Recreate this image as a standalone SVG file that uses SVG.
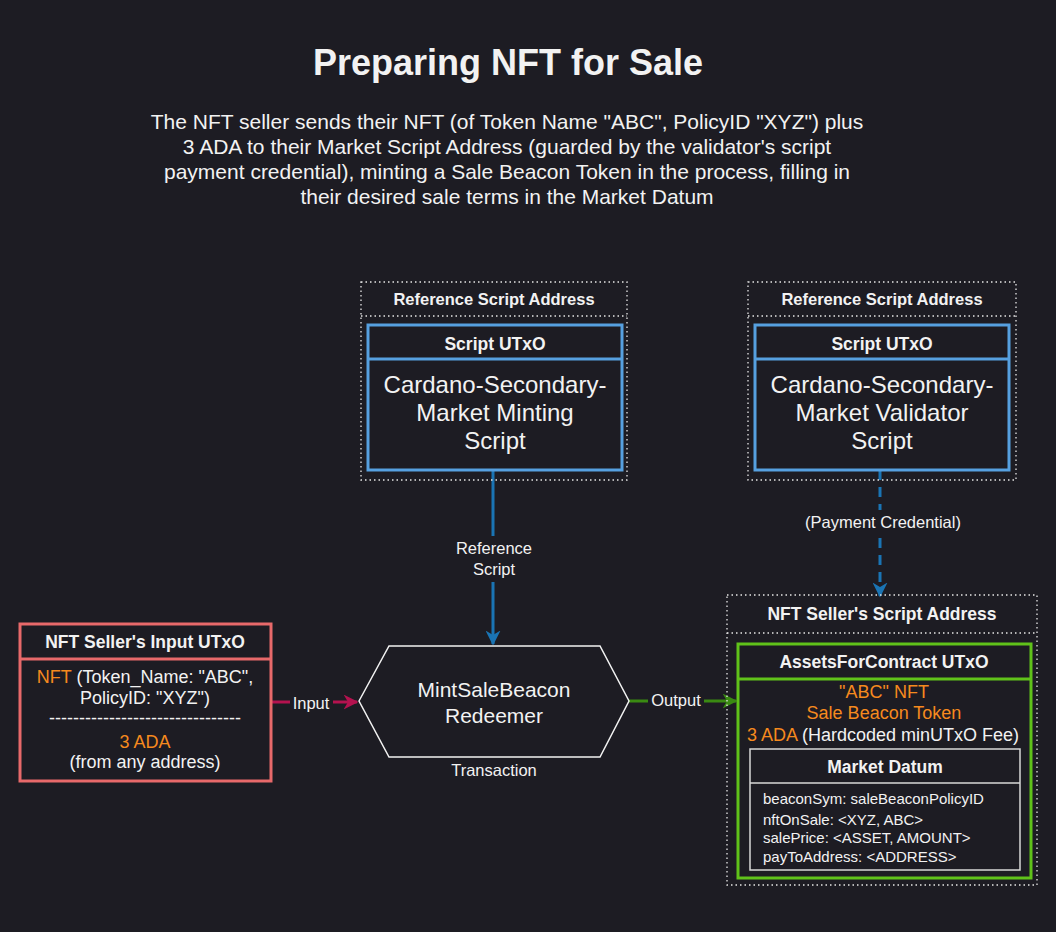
<svg xmlns="http://www.w3.org/2000/svg" width="1056" height="932" viewBox="0 0 1056 932">
<defs>
<style>
text{font-family:"Liberation Sans",Arial,Helvetica,sans-serif;fill:#f2f2f2;text-anchor:middle}
.b{font-weight:bold}
.h{font-size:17.5px;font-weight:bold}
.big{font-size:24px}
.o{fill:#f68a1e}
.dot{fill:none;stroke:#e6e6e6;stroke-width:1.3;stroke-dasharray:1.5 3}
.lbl{font-size:16.5px}
.m{font-size:18px}
</style>
<marker id="ab" viewBox="0 0 10 10" refX="9" refY="5" markerWidth="5" markerHeight="5" orient="auto" markerUnits="strokeWidth"><path d="M0,0 L10,5 L0,10 L3,5 z" fill="#1a74b4"/></marker>
<marker id="ar" viewBox="0 0 10 10" refX="9" refY="5" markerWidth="5" markerHeight="5" orient="auto" markerUnits="strokeWidth"><path d="M0,0 L10,5 L0,10 L3,5 z" fill="#b5124f"/></marker>
<marker id="ag" viewBox="0 0 10 10" refX="9" refY="5" markerWidth="5" markerHeight="5" orient="auto" markerUnits="strokeWidth"><path d="M0,0 L10,5 L0,10 L3,5 z" fill="#3a8a12"/></marker>
</defs>
<rect width="1056" height="932" fill="#1d1c23"/>
<g id="title">
<text x="508" y="75" class="b" style="font-size:36px">Preparing NFT for Sale</text>
<text x="507" y="129" style="font-size:21px">The NFT seller sends their NFT (of Token Name "ABC", PolicyID "XYZ") plus</text>
<text x="507" y="154" style="font-size:21px">3 ADA to their Market Script Address (guarded by the validator's script</text>
<text x="507" y="179" style="font-size:21px">payment credential), minting a Sale Beacon Token in the process, filling in</text>
<text x="507" y="204" style="font-size:21px">their desired sale terms in the Market Datum</text>
</g>
<g id="connectors">
<line x1="493" y1="470" x2="493" y2="536" stroke="#1a74b4" stroke-width="3"/>
<line x1="493" y1="582" x2="493" y2="644" stroke="#1a74b4" stroke-width="3" marker-end="url(#ab)"/>
<text x="494" y="554" class="lbl">Reference</text>
<text x="494" y="575" class="lbl">Script</text>
<line x1="880" y1="470" x2="880" y2="596" stroke="#1a74b4" stroke-width="3" stroke-dasharray="10 7" marker-end="url(#ab)"/>
<rect x="800" y="510" width="165" height="22" fill="#1d1c23"/>
<text x="883" y="528" class="lbl">(Payment Credential)</text>
<line x1="271" y1="702" x2="290" y2="702" stroke="#b5124f" stroke-width="3"/>
<line x1="333" y1="702" x2="357" y2="702" stroke="#b5124f" stroke-width="3" marker-end="url(#ar)"/>
<text x="311" y="709" class="lbl">Input</text>
<line x1="629" y1="701" x2="648" y2="701" stroke="#3a8a12" stroke-width="3"/>
<line x1="704" y1="701" x2="736" y2="701" stroke="#3a8a12" stroke-width="3" marker-end="url(#ag)"/>
<text x="676" y="706" class="lbl">Output</text>
</g>
<g id="ref-script-address-1">
<rect x="361" y="282" width="266" height="198" class="dot"/>
<line x1="361" y1="316" x2="627" y2="316" class="dot"/>
<text x="494" y="305" class="b" style="font-size:16.5px">Reference Script Address</text>
<rect x="368" y="325" width="254" height="145" fill="none" stroke="#56a0e0" stroke-width="3"/>
<line x1="368" y1="359" x2="622" y2="359" stroke="#56a0e0" stroke-width="3"/>
<text x="495" y="350" class="h">Script UTxO</text>
<text x="495" y="393" class="big">Cardano-Secondary-</text>
<text x="495" y="421" class="big">Market Minting</text>
<text x="495" y="449" class="big">Script</text>
</g>
<g id="ref-script-address-2">
<rect x="748" y="282" width="268" height="198" class="dot"/>
<line x1="748" y1="316" x2="1016" y2="316" class="dot"/>
<text x="882" y="305" class="b" style="font-size:16.5px">Reference Script Address</text>
<rect x="755" y="325" width="254" height="145" fill="none" stroke="#56a0e0" stroke-width="3"/>
<line x1="755" y1="359" x2="1009" y2="359" stroke="#56a0e0" stroke-width="3"/>
<text x="882" y="350" class="h">Script UTxO</text>
<text x="882" y="393" class="big">Cardano-Secondary-</text>
<text x="882" y="421" class="big">Market Validator</text>
<text x="882" y="449" class="big">Script</text>
</g>
<g id="input-utxo">
<rect x="20" y="624" width="251" height="157" fill="none" stroke="#e8696a" stroke-width="3"/>
<line x1="20" y1="659" x2="271" y2="659" stroke="#e8696a" stroke-width="3"/>
<text x="145" y="648" class="h">NFT Seller's Input UTxO</text>
<text x="145" y="683" class="m"><tspan class="o">NFT</tspan> (Token_Name: "ABC",</text>
<text x="145" y="704" class="m">PolicyID: "XYZ")</text>
<text x="145" y="724" class="m">--------------------------------</text>
<text x="145" y="748" class="m o">3 ADA</text>
<text x="145" y="768" class="m">(from any address)</text>
</g>
<g id="transaction">
<polygon points="359,701 389,646 600,646 629,701 600,757 389,757" fill="#1d1c23" stroke="#f2f2f2" stroke-width="1.5"/>
<text x="494" y="697" style="font-size:21px">MintSaleBeacon</text>
<text x="494" y="723" style="font-size:21px">Redeemer</text>
<text x="494" y="776" class="lbl">Transaction</text>
</g>
<g id="seller-script-address">
<rect x="727" y="595" width="310" height="290" class="dot"/>
<line x1="727" y1="633" x2="1037" y2="633" class="dot"/>
<text x="882" y="620" class="b" style="font-size:17.5px">NFT Seller's Script Address</text>
<rect x="738" y="644" width="293" height="234" fill="none" stroke="#60c21a" stroke-width="3"/>
<line x1="738" y1="679" x2="1031" y2="679" stroke="#60c21a" stroke-width="3"/>
<text x="884" y="668" class="h">AssetsForContract UTxO</text>
<text x="884" y="698" class="m o">"ABC" NFT</text>
<text x="884" y="719" class="m o">Sale Beacon Token</text>
<text x="883" y="741" class="m"><tspan class="o">3 ADA</tspan> (Hardcoded minUTxO Fee)</text>
<rect x="750" y="749" width="270" height="121" fill="none" stroke="#d8d8d8" stroke-width="1.5"/>
<line x1="750" y1="783" x2="1020" y2="783" stroke="#d8d8d8" stroke-width="1.5"/>
<text x="885" y="773" class="h">Market Datum</text>
<g style="font-size:15px">
<text x="763" y="804" style="text-anchor:start">beaconSym: saleBeaconPolicyID</text>
<text x="763" y="825" style="text-anchor:start">nftOnSale: &lt;XYZ, ABC&gt;</text>
<text x="763" y="843" style="text-anchor:start">salePrice: &lt;ASSET, AMOUNT&gt;</text>
<text x="763" y="862" style="text-anchor:start">payToAddress: &lt;ADDRESS&gt;</text>
</g>
</g>
</svg>
